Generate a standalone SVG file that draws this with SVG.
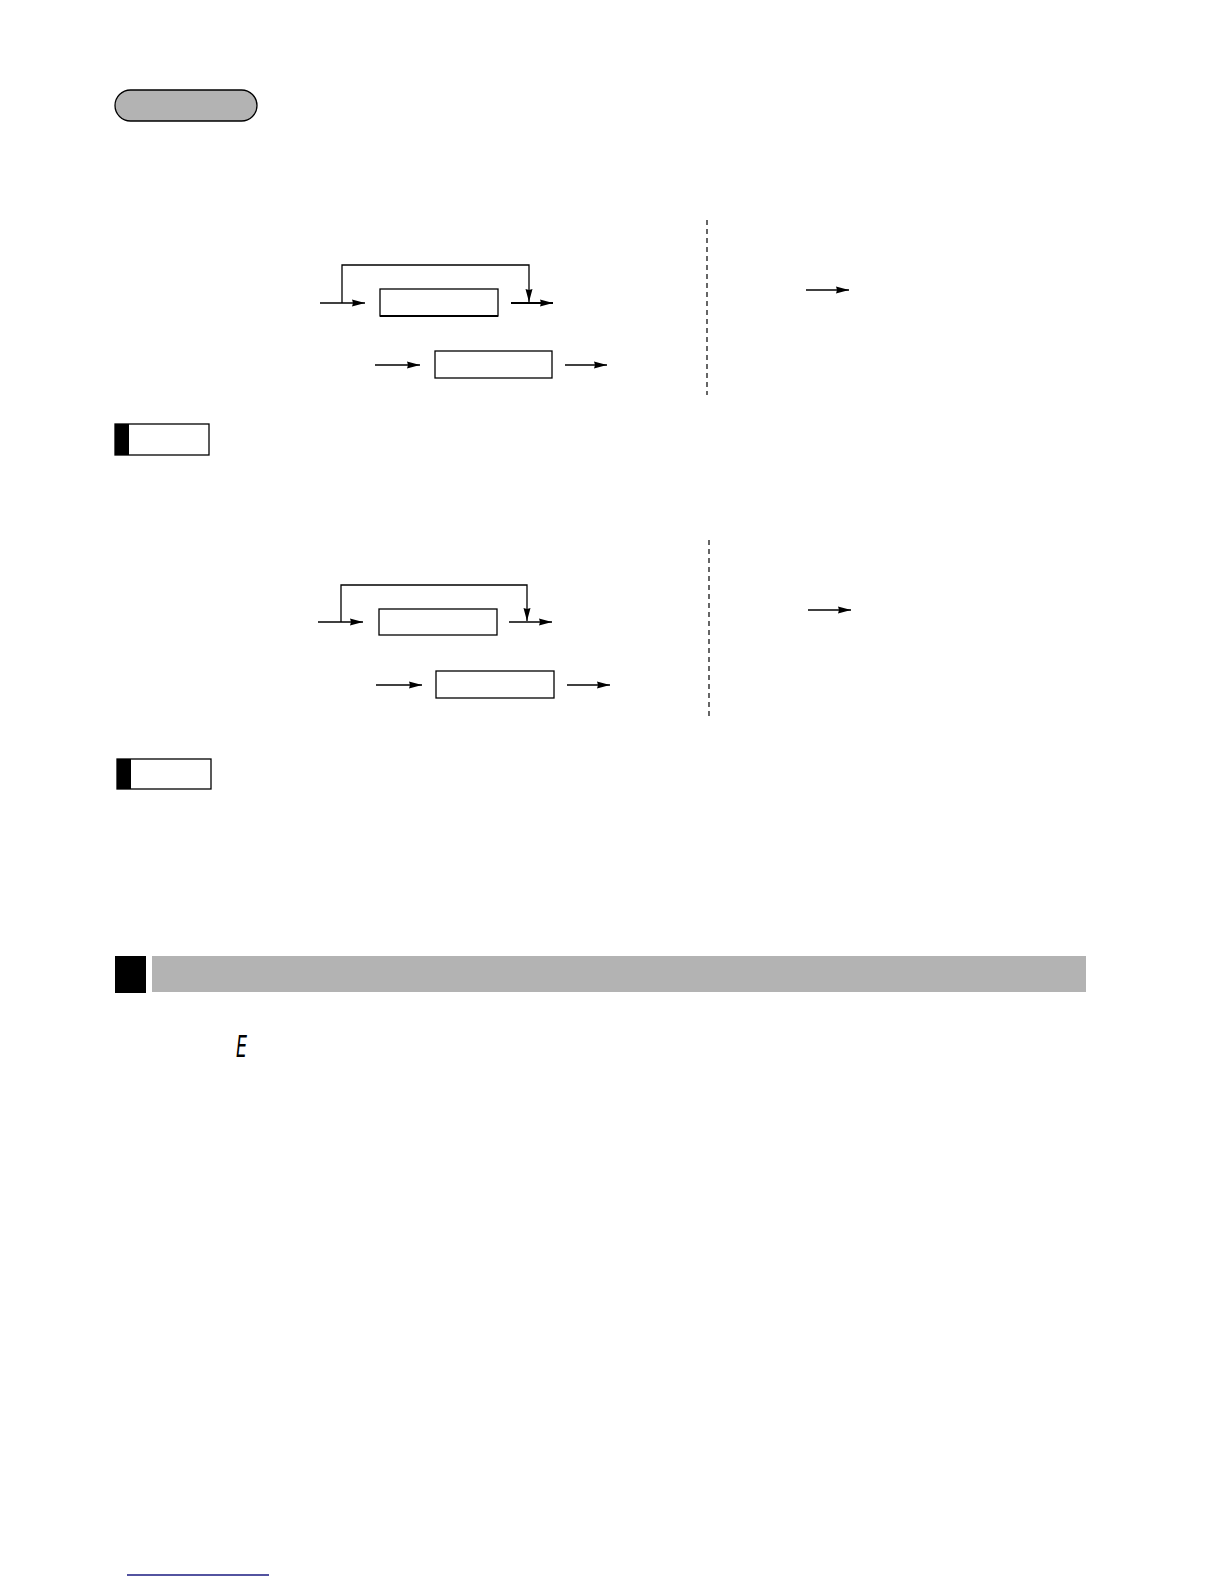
<svg xmlns="http://www.w3.org/2000/svg" width="1224" height="1584" viewBox="0 0 1224 1584">
<style>
.box{fill:#fff;stroke:#000;stroke-width:1.3}
.ln{fill:none;stroke:#000;stroke-width:1.3}
.thk{fill:none;stroke:#000;stroke-width:2.2}
.dash{fill:none;stroke:#000;stroke-width:1.2;stroke-dasharray:5,4}
</style>
<defs>
<marker id="ah" viewBox="0 0 13 8" refX="13" refY="4" markerWidth="13" markerHeight="8" markerUnits="userSpaceOnUse" orient="auto">
<path d="M0,0.5 L13,4 L0,7.5 L1,4 Z" fill="#000"/>
</marker>
<marker id="ahd" viewBox="0 0 8 13" refX="4" refY="13" markerWidth="8" markerHeight="13" markerUnits="userSpaceOnUse" orient="0">
<path d="M0.5,0 L4,13 L7.5,0 L4,1 Z" fill="#000"/>
</marker>
</defs>
<g id="pill"><rect x="115" y="90" width="142" height="31" rx="15.5" fill="#b3b3b3" stroke="#000" stroke-width="1.3"/></g>
<g id="box1"><rect class="box" x="380" y="289" width="118" height="27"/><line x1="380" y1="316" x2="498" y2="316" stroke="#000" stroke-width="2"/></g>
<g id="box2"><rect class="box" x="435" y="351" width="117" height="27"/></g>
<g id="note1"><rect x="115" y="424" width="94" height="31" fill="#fff" stroke="#000" stroke-width="1.3"/><rect x="115" y="424" width="14" height="31" fill="#000"/></g>
<g id="box3"><rect class="box" x="379" y="609" width="118" height="26"/></g>
<g id="box4"><rect class="box" x="436" y="671" width="118" height="27"/></g>
<g id="note2"><rect x="117" y="759" width="94" height="30" fill="#fff" stroke="#000" stroke-width="1.3"/><rect x="117" y="759" width="14" height="30" fill="#000"/></g>
<g id="header"><rect x="115" y="956" width="31" height="37" fill="#000"/><rect x="152" y="956" width="934" height="36" fill="#b3b3b3"/></g>
<g id="glyph"><text x="236" y="1057" font-family="DejaVu Sans, sans-serif" font-weight="200" font-style="italic" font-size="30" textLength="11" lengthAdjust="spacingAndGlyphs">E</text></g>
<g id="connectors">
<line class="ln" x1="320" y1="303" x2="365" y2="303" marker-end="url(#ah)"/>
<polyline class="ln" points="342,303 342,265 529,265 529,302" marker-end="url(#ahd)"/>
<line class="thk" x1="511" y1="303" x2="553" y2="303" marker-end="url(#ah)"/>
<line class="ln" x1="375" y1="365" x2="420" y2="365" marker-end="url(#ah)"/>
<line class="ln" x1="565" y1="365" x2="607" y2="365" marker-end="url(#ah)"/>
<line class="dash" x1="707" y1="220" x2="707" y2="395"/>
<line class="ln" x1="806" y1="290" x2="849" y2="290" marker-end="url(#ah)"/>
<line class="ln" x1="318" y1="622" x2="363" y2="622" marker-end="url(#ah)"/>
<polyline class="ln" points="341,622 341,585 527,585 527,621" marker-end="url(#ahd)"/>
<line class="ln" x1="509" y1="622" x2="552" y2="622" marker-end="url(#ah)"/>
<line class="ln" x1="376" y1="685" x2="422" y2="685" marker-end="url(#ah)"/>
<line class="ln" x1="567" y1="685" x2="610" y2="685" marker-end="url(#ah)"/>
<line class="dash" x1="709" y1="540" x2="709" y2="716"/>
<line class="ln" x1="808" y1="610" x2="851" y2="610" marker-end="url(#ah)"/>
</g>
<line x1="127" y1="1575" x2="269" y2="1575" stroke="#1a1a80" stroke-width="1.3"/>
</svg>
